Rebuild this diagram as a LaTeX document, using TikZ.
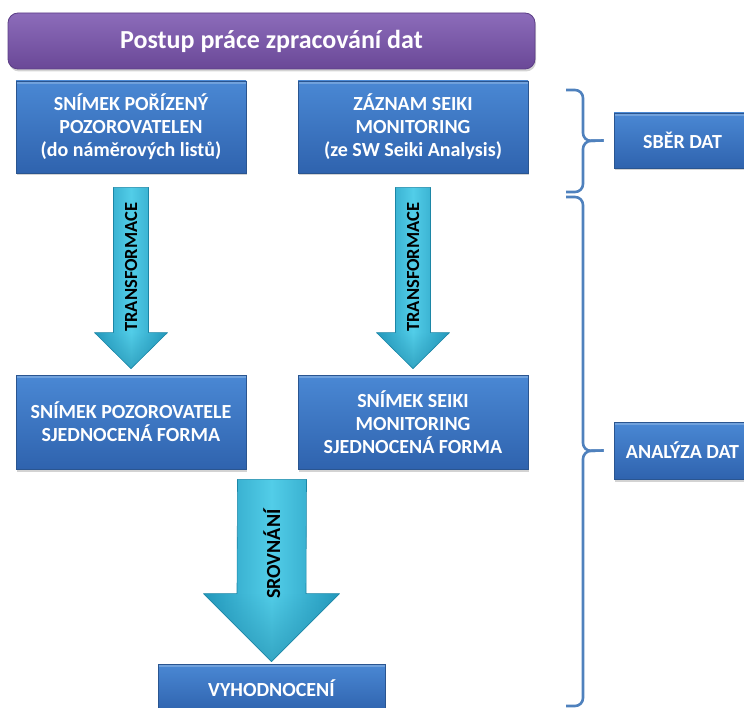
\documentclass[tikz,border=0pt]{standalone}
\usepackage{fontspec}
\setmainfont{Carlito}
\usetikzlibrary{calc,shadows,fadings}
\definecolor{boxtop}{HTML}{4A88D4}
\definecolor{boxbot}{HTML}{2F63AE}
\definecolor{boxedge}{HTML}{2A5590}
\definecolor{titletop}{HTML}{8C6CBA}
\definecolor{titlebot}{HTML}{6A4897}
\definecolor{titleedge}{HTML}{5C3E86}
\definecolor{arrmid}{HTML}{52CDE8}
\definecolor{arredge}{HTML}{2398BC}
\definecolor{arrline}{HTML}{1C86A6}
\definecolor{bracecol}{HTML}{4F81BD}
\begin{document}
\begin{tikzpicture}[x=1pt,y=-1pt,
  box/.style={draw=boxedge, line width=0.8pt, top color=boxtop, bottom color=boxbot,
    text=white, font=\bfseries\fontsize{20}{23}\selectfont, align=center, inner sep=0pt,
    drop shadow={shadow xshift=1pt, shadow yshift=-2.5pt, opacity=0.35},
    path picture={\fill[white, opacity=0.22] (path picture bounding box.north west)
      rectangle ([yshift=-3pt]path picture bounding box.north east);}},
  titlebox/.style={draw=titleedge, line width=0.8pt, top color=titletop, bottom color=titlebot,
    rounded corners=10pt, text=white, font=\bfseries\fontsize{26}{29}\selectfont, inner sep=0pt,
    drop shadow={shadow xshift=1pt, shadow yshift=-2.5pt, opacity=0.35}},
  blockarrow/.style={draw=arrline, line width=0.6pt, left color=arredge, right color=arredge,
    middle color=arrmid, line join=round},
  headshade/.style={fill=arrline, opacity=0.55, path fading=north},
  arrowlabel/.style={text=black, font=\bfseries\fontsize{#1}{#1}\selectfont, inner sep=0pt},
  brace/.style={draw=bracecol, line width=2.6pt, rounded corners=8pt}]
  \useasboundingbox (0,0) rectangle (744,708);

  % title and the five steps
  \node[titlebox, minimum width=527pt, minimum height=56pt] (postup) at (271.5,41) {Postup práce zpracování dat};
  \node[box, minimum width=230pt, minimum height=92pt] (snpor) at (131,127)
    {SNÍMEK POŘÍZENÝ\\POZOROVATELEN\\(do náměrových listů)};
  \node[box, minimum width=230pt, minimum height=92pt] (zaznam) at (413,127)
    {ZÁZNAM SEIKI\\MONITORING\\(ze SW Seiki Analysis)};
  \node[box, minimum width=230pt, minimum height=94pt] (snpoz) at (131,422)
    {SNÍMEK POZOROVATELE\\SJEDNOCENÁ FORMA};
  \node[box, minimum width=230pt, minimum height=94pt] (snseiki) at (413,422)
    {SNÍMEK SEIKI\\MONITORING\\SJEDNOCENÁ FORMA};
  \node[box, minimum width=227pt, minimum height=48pt] (vyhod) at (271.5,688) {VYHODNOCENÍ};

  % phases on the right
  \node[box, minimum width=137pt, minimum height=55pt] (sber) at (682.5,140.5) {SBĚR DAT};
  \node[box, minimum width=137pt, minimum height=57pt] (analyza) at (682.5,450.5) {ANALÝZA DAT};

  % block arrows
  \coordinate (a1s) at ($(snpor.south)+(0,14)$);
  \coordinate (a1e) at ($(snpoz.north)+(0,-6)$);
  \draw[blockarrow] ($(a1s)+(-17.5,0)$) -- ($(a1s)+(17.5,0)$) -- ($(a1e)+(17.5,-36)$) -- ($(a1e)+(36.5,-36)$)
    -- (a1e) -- ($(a1e)+(-36.5,-36)$) -- ($(a1e)+(-17.5,-36)$) -- cycle;
  \fill[headshade] ($(a1e)+(36.5,-36)$) -- (a1e) -- ($(a1e)+(-36.5,-36)$) -- cycle;
  \node[arrowlabel=18.5, rotate=90] (trans1) at ($(a1s)!0.44!(a1e)$) {TRANSFORMACE};

  \coordinate (a2s) at ($(zaznam.south)+(0,14)$);
  \coordinate (a2e) at ($(snseiki.north)+(0,-6)$);
  \draw[blockarrow] ($(a2s)+(-17.5,0)$) -- ($(a2s)+(17.5,0)$) -- ($(a2e)+(17.5,-36)$) -- ($(a2e)+(36.5,-36)$)
    -- (a2e) -- ($(a2e)+(-36.5,-36)$) -- ($(a2e)+(-17.5,-36)$) -- cycle;
  \fill[headshade] ($(a2e)+(36.5,-36)$) -- (a2e) -- ($(a2e)+(-36.5,-36)$) -- cycle;
  \node[arrowlabel=18.5, rotate=90] (trans2) at ($(a2s)!0.44!(a2e)$) {TRANSFORMACE};

  \coordinate (mid) at ($(snpoz.south)!0.5!(snseiki.south)$);
  \coordinate (a3s) at ($(mid)+(0,10)$);
  \coordinate (a3e) at ($(vyhod.north)+(0,-2)$);
  \draw[blockarrow] ($(a3s)+(-34.5,0)$) -- ($(a3s)+(34.5,0)$) -- ($(a3e)+(34.5,-68)$) -- ($(a3e)+(68,-68)$)
    -- (a3e) -- ($(a3e)+(-68,-68)$) -- ($(a3e)+(-34.5,-68)$) -- cycle;
  \fill[headshade] ($(a3e)+(68,-68)$) -- (a3e) -- ($(a3e)+(-68,-68)$) -- cycle;
  \node[arrowlabel=20, rotate=90] (srov) at ($(a3s)!0.41!(a3e)$) {SROVNÁNÍ};

  % braces
  \coordinate (b1) at ($(sber.west)+(-10,0)$);
  \draw[brace] (566,90) -| (583,141) -- (b1);
  \draw[brace] (566,192) -| (583,141) -- (b1);
  \coordinate (b2) at ($(analyza.west)+(-10,0)$);
  \draw[brace] (566,197) -| (583,451) -- (b2);
  \draw[brace] (566,706) -| (583,451) -- (b2);
\end{tikzpicture}
\end{document}
